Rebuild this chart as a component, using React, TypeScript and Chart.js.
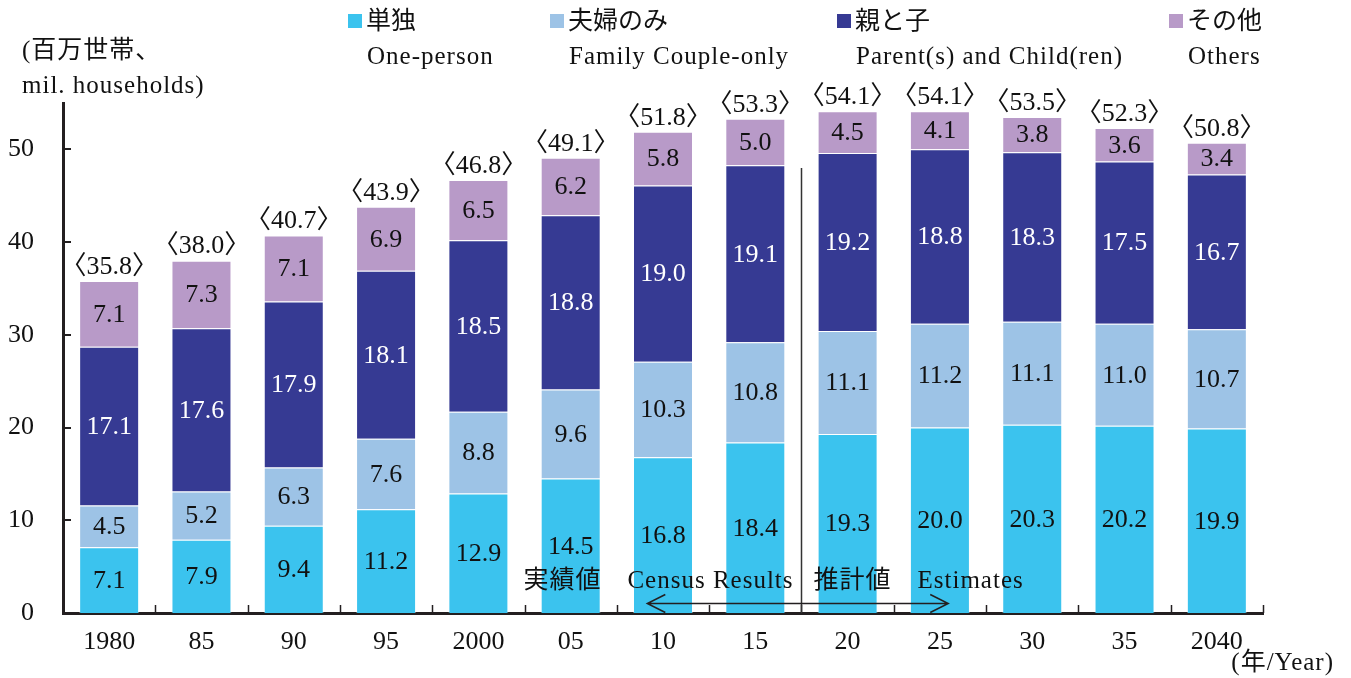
import React, { useEffect, useRef } from "react";
import { Chart, registerables } from "chart.js";

Chart.register(...registerables);

const categories = ["1980", "85", "90", "95", "2000", "05", "10", "15", "20", "25", "30", "35", "2040"];
const onePerson = [7.1, 7.9, 9.4, 11.2, 12.9, 14.5, 16.8, 18.4, 19.3, 20.0, 20.3, 20.2, 19.9];
const coupleOnly = [4.5, 5.2, 6.3, 7.6, 8.8, 9.6, 10.3, 10.8, 11.1, 11.2, 11.1, 11.0, 10.7];
const parentChild = [17.1, 17.6, 17.9, 18.1, 18.5, 18.8, 19.0, 19.1, 19.2, 18.8, 18.3, 17.5, 16.7];
const others = [7.1, 7.3, 7.1, 6.9, 6.5, 6.2, 5.8, 5.0, 4.5, 4.1, 3.8, 3.6, 3.4];
const totals = [35.8, 38.0, 40.7, 43.9, 46.8, 49.1, 51.8, 53.3, 54.1, 54.1, 53.5, 52.3, 50.8];
const yTicks = [0, 10, 20, 30, 40, 50];

const seriesJa = ["単独", "夫婦のみ", "親と子", "その他"];
const seriesEn = ["One-person", "Family Couple-only", "Parent(s) and Child(ren)", "Others"];
const seriesColors = ["#3BC3EE", "#9DC3E6", "#363A93", "#B89AC8"];
const labelColors = ["#111111", "#111111", "#FFFFFF", "#111111"];

const FONT = "'Liberation Serif', 'Noto Sans CJK JP', serif";

const overlayPlugin = {
  id: "overlay",
  afterDatasetsDraw(chart: any) {
    const ctx = chart.ctx;
    const xs = chart.scales.x;
    const ys = chart.scales.y;
    ctx.save();
    // segment labels
    ctx.font = `26px ${FONT}`;
    ctx.textAlign = "center";
    ctx.textBaseline = "middle";
    chart.data.datasets.forEach((ds: any, di: number) => {
      const meta = chart.getDatasetMeta(di);
      meta.data.forEach((bar: any, i: number) => {
        const v = ds.data[i];
        ctx.fillStyle = labelColors[di];
        ctx.fillText(v.toFixed(1), bar.x, (bar.y + bar.base) / 2 + 1);
      });
    });
    // totals
    ctx.fillStyle = "#111111";
    const lastMeta = chart.getDatasetMeta(chart.data.datasets.length - 1);
    lastMeta.data.forEach((bar: any, i: number) => {
      ctx.fillText("〈" + totals[i].toFixed(1) + "〉", bar.x, bar.y - 14);
    });

    // inner ticks on y axis
    ctx.strokeStyle = "#231F20";
    ctx.lineWidth = 2;
    const left = chart.chartArea.left;
    const bottom = chart.chartArea.bottom;
    yTicks.forEach((t) => {
      const py = Math.round(ys.getPixelForValue(t));
      ctx.beginPath();
      ctx.moveTo(left, py);
      ctx.lineTo(left + 8, py);
      ctx.stroke();
    });
    // inner ticks on x axis at category boundaries
    ctx.lineWidth = 1.5;
    for (let i = 1; i <= categories.length; i++) {
      const px = Math.round(xs.getPixelForValue(i - 0.5)) + 0.5;
      ctx.beginPath();
      ctx.moveTo(px, bottom);
      ctx.lineTo(px, bottom - 8);
      ctx.stroke();
    }

    // divider between census results and estimates
    const divX = Math.round(xs.getPixelForValue(7.5)) + 0.5;
    ctx.strokeStyle = "#333333";
    ctx.lineWidth = 1.5;
    ctx.beginPath();
    ctx.moveTo(divX, ys.getPixelForValue(48));
    ctx.lineTo(divX, bottom);
    ctx.stroke();

    // double arrow
    const ay = Math.round(ys.getPixelForValue(1.1)) + 0.5;
    const ax1 = xs.getPixelForValue(5.83);
    const ax2 = xs.getPixelForValue(9.09);
    ctx.strokeStyle = "#231F20";
    ctx.lineWidth = 1.5;
    ctx.beginPath();
    ctx.moveTo(ax1, ay);
    ctx.lineTo(ax2, ay);
    ctx.moveTo(ax1 + 18, ay - 9);
    ctx.lineTo(ax1, ay);
    ctx.lineTo(ax1 + 18, ay + 9);
    ctx.moveTo(ax2 - 18, ay - 9);
    ctx.lineTo(ax2, ay);
    ctx.lineTo(ax2 - 18, ay + 9);
    ctx.stroke();

    // arrow annotations
    ctx.fillStyle = "#111111";
    ctx.font = `25px ${FONT}`;
    ctx.letterSpacing = "1px";
    ctx.textBaseline = "middle";
    const ty = ys.getPixelForValue(3.4);
    ctx.textAlign = "right";
    ctx.fillText("実績値　Census Results", divX - 8, ty);
    ctx.textAlign = "left";
    ctx.fillText("推計値　Estimates", divX + 12, ty);

    // legend
    const legendX = [348, 550, 837, 1169];
    ctx.textAlign = "left";
    for (let k = 0; k < 4; k++) {
      ctx.fillStyle = seriesColors[k];
      ctx.fillRect(legendX[k], 14, 14, 14);
      ctx.fillStyle = "#111111";
      ctx.letterSpacing = "0px";
      ctx.fillText(seriesJa[k], legendX[k] + 18, 22);
      ctx.letterSpacing = "1px";
      ctx.fillText(seriesEn[k], legendX[k] + 19, 57);
    }

    // y axis title
    ctx.letterSpacing = "1px";
    ctx.fillText("(百万世帯、", 22, 51);
    ctx.fillText("mil. households)", 22, 86);

    // x axis unit
    ctx.textAlign = "right";
    ctx.fillText("(年/Year)", 1334, 663);
    ctx.restore();
  },
};

export default function App() {
  const ref = useRef<HTMLCanvasElement | null>(null);
  useEffect(() => {
    document.body.style.margin = "0";
    const canvas = ref.current;
    if (!canvas) return;
    const seriesData = [onePerson, coupleOnly, parentChild, others];
    const chart = new Chart(canvas, {
      type: "bar",
      data: {
        labels: categories,
        datasets: seriesData.map((d, k) => ({
          label: seriesEn[k],
          data: d,
          backgroundColor: seriesColors[k],
          borderColor: "rgba(255,255,255,0.35)",
          borderWidth: 1,
          barPercentage: 0.65,
          categoryPercentage: 1,
        })),
      },
      options: {
        responsive: false,
        animation: false,
        devicePixelRatio: 1,
        layout: { padding: { top: 103, right: 88, left: 0, bottom: 0 } },
        plugins: { legend: { display: false }, tooltip: { enabled: false }, title: { display: false } },
        scales: {
          x: {
            stacked: true,
            grid: { display: false, drawTicks: false },
            border: { display: true, color: "#231F20", width: 3 },
            ticks: { color: "#111111", font: { family: FONT, size: 26 }, padding: 14, maxRotation: 0, autoSkip: false },
            afterFit: (s: any) => { s.height = 65; },
          },
          y: {
            stacked: true,
            min: 0,
            max: 55,
            grid: { display: false, drawTicks: false },
            border: { display: true, color: "#231F20", width: 3 },
            ticks: { color: "#111111", font: { family: FONT, size: 26 }, padding: 29, stepSize: 10 },
            afterBuildTicks: (s: any) => { s.ticks = yTicks.map((v) => ({ value: v })); },
            afterFit: (s: any) => { s.width = 63; },
          },
        },
      },
      plugins: [overlayPlugin],
    });
    return () => chart.destroy();
  }, []);
  return (
    <div style={{ width: 1351, height: 678, background: "#fff" }}>
      <canvas ref={ref} width={1351} height={678} style={{ display: "block" }} />
    </div>
  );
}
